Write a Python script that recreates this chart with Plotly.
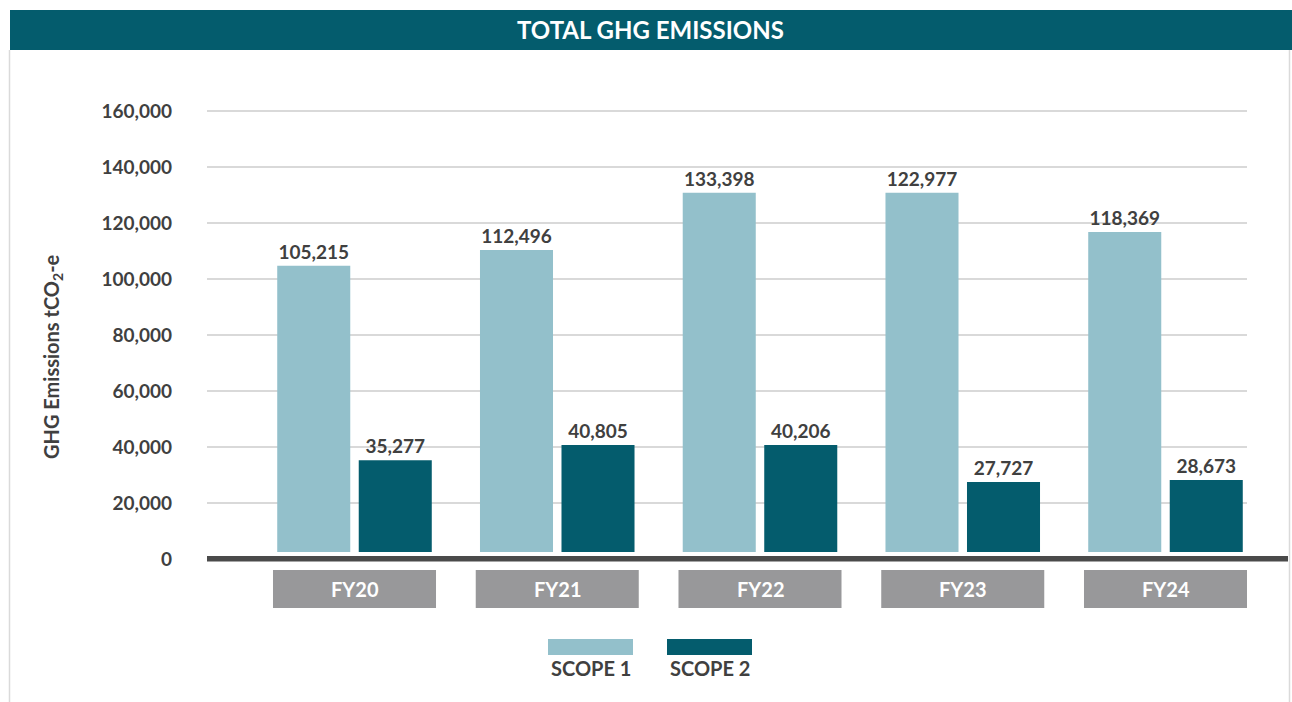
import plotly.graph_objects as go

# ---------------- data ----------------
categories = ["FY20", "FY21", "FY22", "FY23", "FY24"]
scope1_heights = [104700, 110400, 130800, 130800, 116800]   # bar heights as drawn
scope2_heights = [35300, 40700, 40700, 27500, 28200]
scope1_labels = ["105,215", "112,496", "133,398", "122,977", "118,369"]
scope2_labels = ["35,277", "40,805", "40,206", "27,727", "28,673"]
series_names = ["SCOPE 1", "SCOPE 2"]
y_tick_values = [0, 20000, 40000, 60000, 80000, 100000, 120000, 140000, 160000]
y_tick_labels = ["0", "20,000", "40,000", "60,000", "80,000", "100,000", "120,000", "140,000", "160,000"]
chart_title = "TOTAL GHG EMISSIONS"
y_title = "GHG Emissions tCO<sub>2</sub>-e"

# ---------------- style ----------------
W, H = 1292, 702
L, R, T, B = 207, 1247, 80, 559          # plot area in pixels
C1, C2 = "#93C0CB", "#045C6D"
TXT = "#404040"
FONT = "Lato"
Y_MAX = 160000 + (111 - T) / 56 * 20000  # top of y range
LIFT = 2500                               # small gap between bars and axis line


def px(x):
    return (x - L) / (R - L)


def py(y):
    return (B - y) / (B - T)


fig = go.Figure()
for name, heights, labels, col in [
    (series_names[0], scope1_heights, scope1_labels, C1),
    (series_names[1], scope2_heights, scope2_labels, C2),
]:
    fig.add_trace(go.Bar(
        x=categories,
        y=[h - LIFT for h in heights],
        base=[LIFT] * len(heights),
        name=name,
        marker=dict(color=col, line=dict(width=0)),
        text=labels,
        textposition="outside",
        outsidetextfont=dict(family=FONT, size=19, color=TXT, weight="bold"),
        cliponaxis=False,
        showlegend=False,
        hoverinfo="skip",
    ))

shapes = []
annotations = []

# title bar
shapes.append(dict(type="rect", xref="paper", yref="paper",
                   x0=px(10), x1=px(W), y0=py(50), y1=py(10),
                   fillcolor=C2, line=dict(width=0), layer="below"))
annotations.append(dict(xref="paper", yref="paper", x=px(650), y=py(30),
                        text=chart_title, showarrow=False,
                        font=dict(family=FONT, size=24, color="white", weight="bold"),
                        xanchor="center", yanchor="middle"))
# frame lines left/right
for xx in (9.5, 1289.5):
    shapes.append(dict(type="line", xref="paper", yref="paper",
                       x0=px(xx), x1=px(xx), y0=py(50), y1=py(H),
                       line=dict(color="#DADADA", width=1.5)))

# thick baseline
shapes.append(dict(type="rect", xref="paper", yref="paper",
                   x0=0, x1=px(1288), y0=py(561.5), y1=py(556),
                   fillcolor="#4A4A4A", line=dict(width=0), layer="above"))

# category boxes
half = 0.402
for i, c in enumerate(categories):
    shapes.append(dict(type="rect", xref="x", yref="paper",
                       x0=i - half, x1=i + half, y0=py(608), y1=py(570),
                       fillcolor="#98989A", line=dict(width=0)))
    annotations.append(dict(xref="x", yref="paper", x=i, y=py(589),
                            text=c, showarrow=False,
                            font=dict(family=FONT, size=20, color="white", weight="bold"),
                            xanchor="center", yanchor="middle"))

# legend
legend_x = [(548, 633), (667, 752)]
for (x0, x1), name, col in zip(legend_x, series_names, [C1, C2]):
    shapes.append(dict(type="rect", xref="paper", yref="paper",
                       x0=px(x0), x1=px(x1), y0=py(655), y1=py(639),
                       fillcolor=col, line=dict(width=0)))
    annotations.append(dict(xref="paper", yref="paper", x=px((x0 + x1) / 2), y=py(668),
                            text=name, showarrow=False,
                            font=dict(family=FONT, size=20, color=TXT, weight="bold"),
                            xanchor="center", yanchor="middle"))

# y-axis title
annotations.append(dict(xref="paper", yref="paper", x=px(52), y=py(357),
                        text=y_title, showarrow=False, textangle=-90,
                        font=dict(family=FONT, size=20, color=TXT, weight="bold"),
                        xanchor="center", yanchor="middle"))

pitch = 202.75
first_center = 354.5
fig.update_layout(
    width=W, height=H,
    margin=dict(l=L, r=W - R, t=T, b=H - B, pad=0),
    paper_bgcolor="white", plot_bgcolor="white",
    barmode="group", bargap=0.196, bargroupgap=0.104,
    shapes=shapes, annotations=annotations,
    xaxis=dict(
        type="category",
        range=[(L - first_center) / pitch, (R - first_center) / pitch],
        showticklabels=False, showgrid=False, zeroline=False, showline=False,
        fixedrange=True,
    ),
    yaxis=dict(
        range=[0, Y_MAX],
        tickvals=y_tick_values, ticktext=y_tick_labels,
        tickfont=dict(family=FONT, size=19, color=TXT, weight="bold"),
        ticklabelstandoff=34,
        showgrid=True, gridcolor="#D9D9D9", gridwidth=1.5,
        zeroline=False, showline=False, ticks="",
        fixedrange=True,
    ),
    font=dict(family=FONT),
)

fig.write_html(
    "out.html",
    config={"displayModeBar": False},
    post_script="document.body.style.margin='0';document.body.style.overflow='hidden';",
)
